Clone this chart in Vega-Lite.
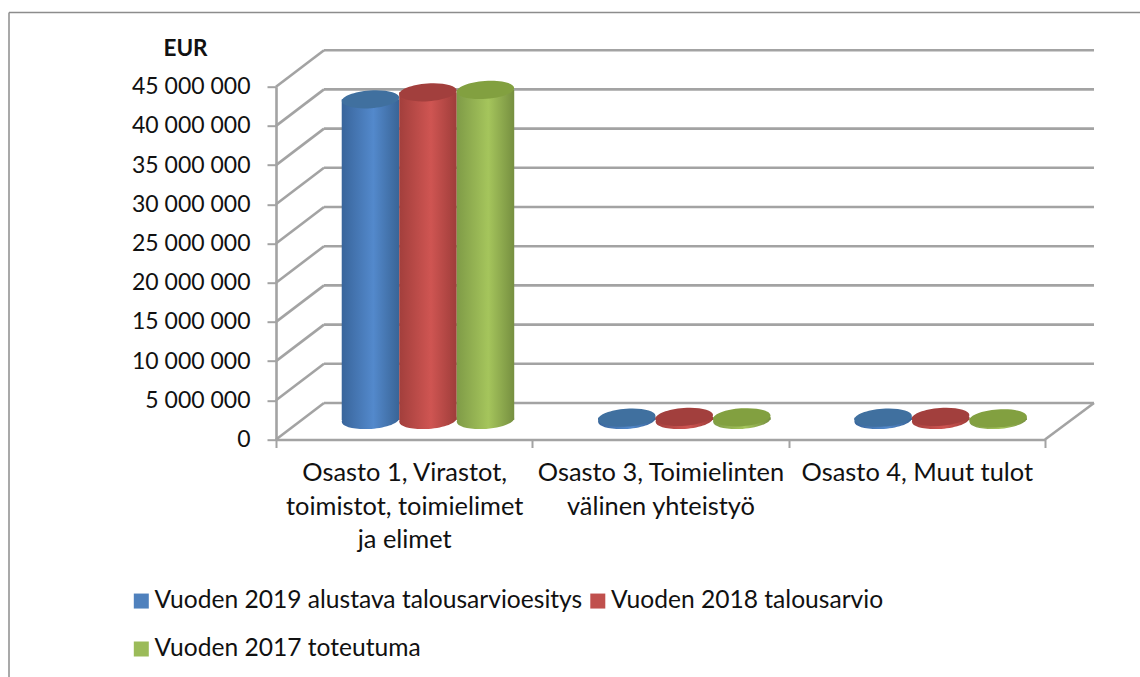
{
"$schema":"https://vega.github.io/schema/vega-lite/v6.json",
"width":769,"height":352.8,"autosize":{"type":"none"},
"padding":{"left":276,"top":86.7,"right":95,"bottom":237.5},
"background":"white",
"config":{"view":{"stroke":null},"font":"Lato","text":{"font":"Lato"},
 "axisY":{"values":[0,5000000,10000000,15000000,20000000,25000000,30000000,35000000,40000000,45000000],"tickCount":10,"grid":false,"labelOverlap":false,
    "labelExpr":"replace(format(datum.value,','),/,/g,' ')","labelFont":"Lato","labelFontSize":23,"labelColor":"#111111","labelPadding":17,
    "tickSize":9,"tickColor":"#a3a3a3","tickWidth":2,"domainColor":"#a3a3a3","domainWidth":2.6}},
"datasets":{
"tasot":[{"taso":0},{"taso":5000000},{"taso":10000000},{"taso":15000000},{"taso":20000000},{"taso":25000000},{"taso":30000000},{"taso":35000000},{"taso":40000000},{"taso":45000000}],
"rivit":[
{"kategoria":"Osasto 1, Virastot, toimistot, toimielimet ja elimet","sarja":"Vuoden 2019 alustava talousarvioesitys","arvo":40900000},
{"kategoria":"Osasto 1, Virastot, toimistot, toimielimet ja elimet","sarja":"Vuoden 2018 talousarvio","arvo":41800000},
{"kategoria":"Osasto 1, Virastot, toimistot, toimielimet ja elimet","sarja":"Vuoden 2017 toteutuma","arvo":42100000},
{"kategoria":"Osasto 3, Toimielinten välinen yhteistyö","sarja":"Vuoden 2019 alustava talousarvioesitys","arvo":300000},
{"kategoria":"Osasto 3, Toimielinten välinen yhteistyö","sarja":"Vuoden 2018 talousarvio","arvo":400000},
{"kategoria":"Osasto 3, Toimielinten välinen yhteistyö","sarja":"Vuoden 2017 toteutuma","arvo":350000},
{"kategoria":"Osasto 4, Muut tulot","sarja":"Vuoden 2019 alustava talousarvioesitys","arvo":300000},
{"kategoria":"Osasto 4, Muut tulot","sarja":"Vuoden 2018 talousarvio","arvo":400000},
{"kategoria":"Osasto 4, Muut tulot","sarja":"Vuoden 2017 toteutuma","arvo":200000}
]},
"data":{"name":"rivit"},
"resolve":{"scale":{"x":"independent"},"axis":{"x":"independent"}},
"layer":[
{"encoding":{"x":{"datum":0,"type":"quantitative","scale":{"domain":[0,3],"nice":false,"zero":false},"axis":null}},
 "layer":[
 {"data":{"values":[{"k":"kehys"}]},"mark":{"type":"rule","color":"#8c8c8c","strokeWidth":1.5},
  "encoding":{"x":{"datum":-1.0416,"type":"quantitative"},"x2":{"datum":3.3706},"y":{"datum":54460000,"type":"quantitative"}}},
 {"data":{"values":[{"k":"kehys"}]},"mark":{"type":"rule","color":"#8c8c8c","strokeWidth":1.5},
  "encoding":{"x":{"datum":-1.0416,"type":"quantitative"},"y":{"datum":54460000,"type":"quantitative"},"y2":{"datum":-30300000}}},
 {"data":{"name":"tasot"},"mark":{"type":"rule","color":"#a3a3a3","strokeWidth":2.6,"xOffset":48,"x2Offset":49,"yOffset":-36.5},
  "encoding":{"x":{"datum":0,"type":"quantitative"},"x2":{"datum":3},"y":{"field":"taso","type":"quantitative",
   "scale":{"domain":[0,45000000],"nice":false},
   "axis":{"title":"EUR","titleFont":"Lato","titleFontSize":22.5,"titleFontWeight":"bold","titleColor":"#111111","titleAngle":0,"titleX":-91,"titleY":-26,"titleAlign":"center"}}}},
 {"data":{"name":"tasot"},"mark":{"type":"rule","color":"#a3a3a3","strokeWidth":2.6,"x2Offset":48,"y2Offset":-36.5},
  "encoding":{"x":{"datum":0,"type":"quantitative"},"x2":{"datum":0},"y":{"field":"taso","type":"quantitative"},"y2":{"field":"taso"}}},
 {"data":{"values":[{"taso":0}]},"mark":{"type":"rule","color":"#a3a3a3","strokeWidth":2.6,"x2Offset":49,"y2Offset":-36.5},
  "encoding":{"x":{"datum":3,"type":"quantitative"},"x2":{"datum":3},"y":{"field":"taso","type":"quantitative"},"y2":{"field":"taso"}}}
 ]},
{"encoding":{
  "x":{"field":"kategoria","type":"nominal","scale":{"domain":["Osasto 1, Virastot, toimistot, toimielimet ja elimet","Osasto 3, Toimielinten välinen yhteistyö","Osasto 4, Muut tulot"],"paddingInner":0,"paddingOuter":0},
   "axis":{"title":null,"labelAngle":0,"tickBand":"extent","tickSize":8,"tickColor":"#a3a3a3","tickWidth":2,"domainColor":"#a3a3a3","domainWidth":2.6,"labelFont":"Lato","labelFontSize":25.4,"labelColor":"#111111","labelPadding":13,"labelLineHeight":33.5,"labelLimit":400,"labelOverlap":false,"labelBaseline":"top",
    "labelExpr":"indexof(datum.label,'Osasto 1')>=0 ? ['Osasto 1, Virastot,','toimistot, toimielimet','ja elimet'] : indexof(datum.label,'Osasto 3')>=0 ? ['Osasto 3, Toimielinten','välinen yhteistyö'] : datum.label"}},
  "xOffset":{"field":"sarja","type":"nominal","scale":{"domain":["Vuoden 2019 alustava talousarvioesitys","Vuoden 2018 talousarvio","Vuoden 2017 toteutuma"],"paddingInner":0,"paddingOuter":0.729,"align":0.784}},
  "y":{"field":"arvo","type":"quantitative"}},
 "layer":[
 {"mark":{"type":"point","filled":true,"size":0,"shape":"square"},
  "encoding":{"color":{"field":"sarja","type":"nominal","scale":{"domain":["Vuoden 2019 alustava talousarvioesitys","Vuoden 2018 talousarvio","Vuoden 2017 toteutuma"],"range":["#4f81bd","#c0504d","#9bbb59"]},
   "legend":{"title":null,"orient":"none","direction":"horizontal","legendX":-147,"legendY":502,"columns":2,"symbolType":"square","symbolSize":225,"symbolOpacity":1,"symbolStrokeWidth":0,"labelFont":"Lato","labelFontSize":24.6,"labelColor":"#111111","labelLimit":600,"rowPadding":23,"columnPadding":2.5,"labelOffset":1}}}},
 {"transform":[{"filter":"datum.sarja=='Vuoden 2019 alustava talousarvioesitys'"}],"layer":[
  {"mark":{"type":"point","filled":true,"opacity":1,"shape":"M-0.998,0.07 A1,0.31 -4 1 1 0.998,-0.07 A1,0.31 -4 1 1 -0.998,0.07 Z","size":3306,"yOffset":-19.5,"fill":{"x1":0,"y1":0,"x2":1,"y2":0,"gradient":"linear","stops":[{"offset":0,"color":"#39659b"},{"offset":0.55,"color":"#5389cc"},{"offset":1,"color":"#396496"}]}},"encoding":{"y":{"datum":0,"type":"quantitative"}}},
  {"mark":{"type":"bar","yOffset":-19.5,"y2Offset":-19.5,"fill":{"x1":0,"y1":0,"x2":1,"y2":0,"gradient":"linear","stops":[{"offset":0,"color":"#39659b"},{"offset":0.55,"color":"#5389cc"},{"offset":1,"color":"#396496"}]}},"encoding":{"y2":{"datum":0}}},
  {"mark":{"type":"point","filled":true,"opacity":1,"shape":"M-0.998,0.07 A1,0.31 -4 1 1 0.998,-0.07 A1,0.31 -4 1 1 -0.998,0.07 Z","size":3306,"yOffset":-19.5,"fill":"#40709f"}}
 ]},
 {"transform":[{"filter":"datum.sarja=='Vuoden 2018 talousarvio'"}],"layer":[
  {"mark":{"type":"point","filled":true,"opacity":1,"shape":"M-0.998,0.07 A1,0.31 -4 1 1 0.998,-0.07 A1,0.31 -4 1 1 -0.998,0.07 Z","size":3306,"yOffset":-19.5,"fill":{"x1":0,"y1":0,"x2":1,"y2":0,"gradient":"linear","stops":[{"offset":0,"color":"#a23f3c"},{"offset":0.55,"color":"#cf5552"},{"offset":1,"color":"#9e3d3a"}]}},"encoding":{"y":{"datum":0,"type":"quantitative"}}},
  {"mark":{"type":"bar","yOffset":-19.5,"y2Offset":-19.5,"fill":{"x1":0,"y1":0,"x2":1,"y2":0,"gradient":"linear","stops":[{"offset":0,"color":"#a23f3c"},{"offset":0.55,"color":"#cf5552"},{"offset":1,"color":"#9e3d3a"}]}},"encoding":{"y2":{"datum":0}}},
  {"mark":{"type":"point","filled":true,"opacity":1,"shape":"M-0.998,0.07 A1,0.31 -4 1 1 0.998,-0.07 A1,0.31 -4 1 1 -0.998,0.07 Z","size":3306,"yOffset":-19.5,"fill":"#a23f3d"}}
 ]},
 {"transform":[{"filter":"datum.sarja=='Vuoden 2017 toteutuma'"}],"layer":[
  {"mark":{"type":"point","filled":true,"opacity":1,"shape":"M-0.998,0.07 A1,0.31 -4 1 1 0.998,-0.07 A1,0.31 -4 1 1 -0.998,0.07 Z","size":3306,"yOffset":-19.5,"fill":{"x1":0,"y1":0,"x2":1,"y2":0,"gradient":"linear","stops":[{"offset":0,"color":"#7f9b47"},{"offset":0.55,"color":"#a5c55c"},{"offset":1,"color":"#768f40"}]}},"encoding":{"y":{"datum":0,"type":"quantitative"}}},
  {"mark":{"type":"bar","yOffset":-19.5,"y2Offset":-19.5,"fill":{"x1":0,"y1":0,"x2":1,"y2":0,"gradient":"linear","stops":[{"offset":0,"color":"#7f9b47"},{"offset":0.55,"color":"#a5c55c"},{"offset":1,"color":"#768f40"}]}},"encoding":{"y2":{"datum":0}}},
  {"mark":{"type":"point","filled":true,"opacity":1,"shape":"M-0.998,0.07 A1,0.31 -4 1 1 0.998,-0.07 A1,0.31 -4 1 1 -0.998,0.07 Z","size":3306,"yOffset":-19.5,"fill":"#82a040"}}
 ]}
 ]}
]}
